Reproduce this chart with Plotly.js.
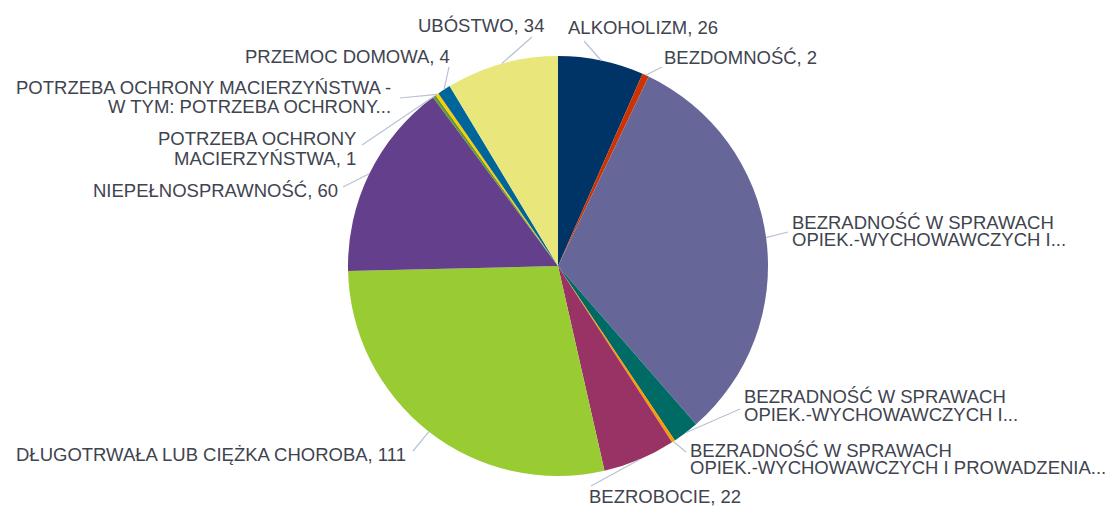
<!DOCTYPE html>
<html>
<head>
<meta charset="utf-8">
<script src="https://cdn.plot.ly/plotly-3.0.1.min.js"></script>
<style>html,body{margin:0;padding:0;background:#fff;}#chart{width:1112px;height:508px;}</style>
</head>
<body>
<div id="chart"></div>
<script>
// ---- data ----
const categories = [
  "ALKOHOLIZM",
  "BEZDOMNOŚĆ",
  "BEZRADNOŚĆ W SPRAWACH\nOPIEK.-WYCHOWAWCZYCH I...",
  "BEZRADNOŚĆ W SPRAWACH\nOPIEK.-WYCHOWAWCZYCH I...",
  "BEZRADNOŚĆ W SPRAWACH\nOPIEK.-WYCHOWAWCZYCH I PROWADZENIA...",
  "BEZROBOCIE",
  "DŁUGOTRWAŁA LUB CIĘŻKA CHOROBA",
  "NIEPEŁNOSPRAWNOŚĆ",
  "POTRZEBA OCHRONY\nMACIERZYŃSTWA",
  "POTRZEBA OCHRONY MACIERZYŃSTWA -\nW TYM: POTRZEBA OCHRONY...",
  "PRZEMOC DOMOWA",
  "UBÓSTWO"
];
const values = [26, 2, 124, 8, 1, 22, 111, 60, 1, 1, 4, 34];
const showValue = [true, true, false, false, false, true, true, true, true, false, true, true];
const colors = ["#003366", "#cc3300", "#666699", "#006b64", "#ff9900", "#993366",
                "#99cc33", "#643f8c", "#669933", "#ffcc00", "#006699", "#e9e77b"];

// ---- layout geometry (pixels) ----
const W = 1112, H = 508;
const CX = 558, CY = 266, R = 210;
// label placement: anchor side, x, y of each text line, leader end point
const labelPos = [
  {side: "left",  x: 567, ys: [27],          end: [584, 41]},
  {side: "left",  x: 663, ys: [57],          end: [662, 67]},
  {side: "left",  x: 791, ys: [222.5, 239],  end: [788, 232]},
  {side: "left",  x: 743, ys: [396, 414],    end: [740, 409]},
  {side: "left",  x: 689, ys: [450, 467.5],  end: [686, 452]},
  {side: "left",  x: 588, ys: [496.5],       end: [591, 486]},
  {side: "right", x: 407, ys: [454],         end: [413, 451]},
  {side: "right", x: 339, ys: [190],         end: [343, 187]},
  {side: "right", x: 357, ys: [139, 158.5],  end: [362, 145]},
  {side: "right", x: 392, ys: [87, 106.5],   end: [400, 98]},
  {side: "right", x: 451, ys: [56],          end: [449, 67]},
  {side: "left",  x: 417, ys: [25],          end: [532, 37]}
];

const px = x => x / W;
const py = y => 1 - y / H;

const trace = {
  type: "pie",
  // pie labels must be unique, otherwise equal names are merged into one slice
  labels: categories.map((c, i) => (i + 1) + ". " + c.replace("\n", " ")),
  values: values,
  sort: false,
  direction: "clockwise",
  rotation: 0,
  textinfo: "none",
  hoverinfo: "label+value",
  marker: {colors: colors, line: {width: 0}},
  domain: {x: [px(CX - R), px(CX + R)], y: [py(CY + R), py(CY - R)]},
  showlegend: false
};

const total = values.reduce((a, b) => a + b, 0);
const annotations = [];
const shapes = [];
let cum = 0;
values.forEach((v, i) => {
  const mid = (cum + v / 2) / total * 2 * Math.PI;
  cum += v;
  const tipX = CX + R * Math.sin(mid);
  const tipY = CY - R * Math.cos(mid);
  const lp = labelPos[i];
  shapes.push({
    type: "line", xref: "paper", yref: "paper",
    x0: px(tipX), y0: py(tipY), x1: px(lp.end[0]), y1: py(lp.end[1]),
    line: {color: "#b8c2d2", width: 1.2}
  });
  const lines = categories[i].split("\n");
  if (showValue[i]) lines[lines.length - 1] += ", " + values[i];
  lines.forEach((t, k) => {
    annotations.push({
      xref: "paper", yref: "paper",
      x: px(lp.x), y: py(lp.ys[k]),
      xanchor: lp.side, yanchor: "middle",
      text: t, showarrow: false, borderpad: 0,
      font: {family: "Liberation Sans, Arial, sans-serif", size: 18.5, color: "#40444f"}
    });
  });
});

const layout = {
  width: W, height: H,
  margin: {l: 0, r: 0, t: 0, b: 0},
  paper_bgcolor: "#ffffff",
  plot_bgcolor: "#ffffff",
  annotations: annotations,
  shapes: shapes
};

Plotly.newPlot("chart", [trace], layout, {displayModeBar: false, staticPlot: true});
</script>
</body>
</html>
